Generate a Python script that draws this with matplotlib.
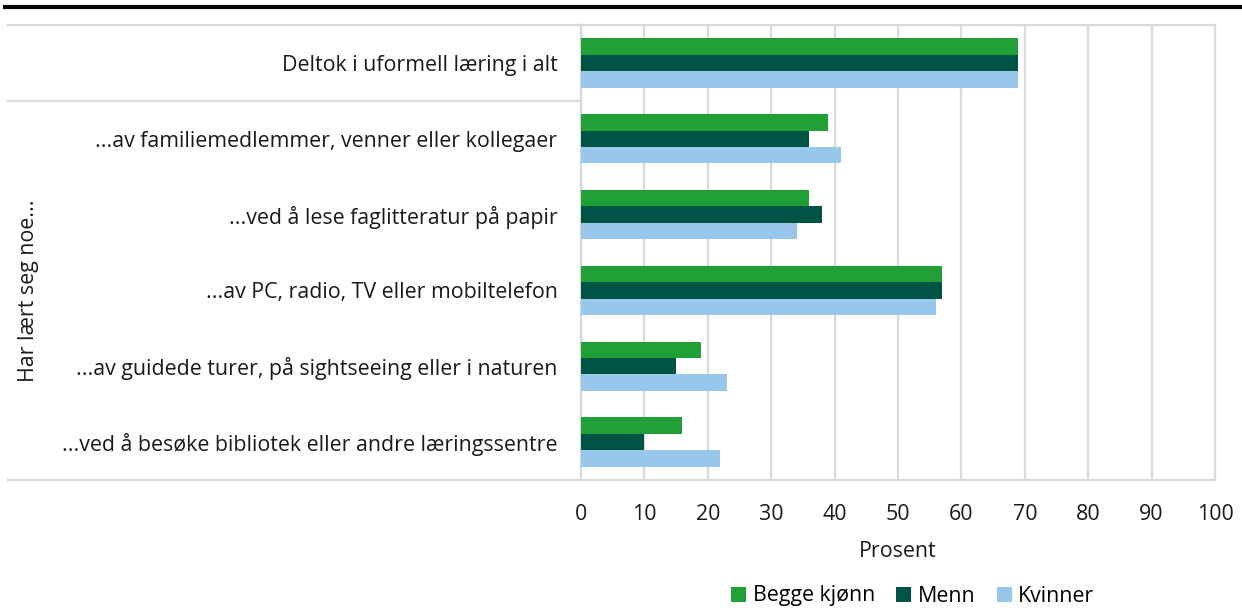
import matplotlib
matplotlib.use('Agg')
import matplotlib.pyplot as plt
import numpy as np

plt.rcParams['font.family'] = ['Open Sans', 'DejaVu Sans']

### Data
categories = ['Deltok i uformell læring i alt',
              '...av familiemedlemmer, venner eller kollegaer',
              '...ved å lese faglitteratur på papir',
              '...av PC, radio, TV eller mobiltelefon',
              '...av guidede turer, på sightseeing eller i naturen',
              '...ved å besøke bibliotek eller andre læringssentre']
begge = [69, 39, 36, 57, 19, 16]
menn = [69, 36, 38, 57, 15, 10]
kvinner = [69, 41, 34, 56, 23, 22]
series_names = ['Begge kjønn', 'Menn', 'Kvinner']
colors = ['#21a038', '#005446', '#97c8ec']
group_label = 'Har lært seg noe...'
xticks = list(range(0, 101, 10))

grid_col = '#d9d9d9'
txt_col = '#1a1a1a'
fs = 15.4

fig = plt.figure(figsize=(12.42, 6.08), dpi=100)
ax = fig.add_axes([581 / 1242, 1 - 480 / 608, 634 / 1242, 455 / 608])

y = np.arange(len(categories))
h = 0.217
for k, (vals, name, c) in enumerate(zip([begge, menn, kvinner], series_names, colors)):
    ax.barh(y + (k - 1) * h, vals, height=h, color=c, label=name, zorder=3)

ax.set_xlim(0, 100)
ax.set_ylim(len(categories) - 0.5, -0.5)
ax.set_xticks(xticks)
ax.set_xticklabels([str(t) for t in xticks], fontsize=fs, color=txt_col)
ax.set_yticks(y)
ax.set_yticklabels(categories, fontsize=fs, color=txt_col)
ax.tick_params(axis='both', length=0)
ax.tick_params(axis='y', pad=17)
ax.tick_params(axis='x', pad=17)
ax.set_xlabel('Prosent', fontsize=fs, color=txt_col, labelpad=12)

ax.grid(axis='x', color=grid_col, linewidth=1.6, zorder=0)
for s in ax.spines.values():
    s.set_color(grid_col)
    s.set_linewidth(1.6)

# category area lines (multi-level axis)
x_left = (8 - 581) / 634
tr = ax.get_yaxis_transform()
ax.plot([x_left, 0], [-0.5, -0.5], color=grid_col, lw=1.6, transform=tr, clip_on=False)
ax.plot([x_left, 0], [0.5, 0.5], color=grid_col, lw=1.6, transform=tr, clip_on=False)
ax.plot([x_left, 0], [len(categories) - 0.5] * 2, color=grid_col, lw=1.6, transform=tr, clip_on=False)
ax.text((29 - 581) / 634, 3, group_label, rotation=90, ha='center', va='center',
        fontsize=fs, color=txt_col, transform=tr)

# thick top rule
fig.add_artist(plt.Line2D([5 / 1242, 1], [1 - 7 / 608] * 2, color='black', lw=3,
                          transform=fig.transFigure))

fig.legend(loc='center', bbox_to_anchor=(913 / 1242, 1 - 596 / 608), ncol=3,
           frameon=False, fontsize=fs, handlelength=0.7, handleheight=0.7,
           handletextpad=0.3, columnspacing=1.0)

fig.savefig('out.png', dpi=100)
